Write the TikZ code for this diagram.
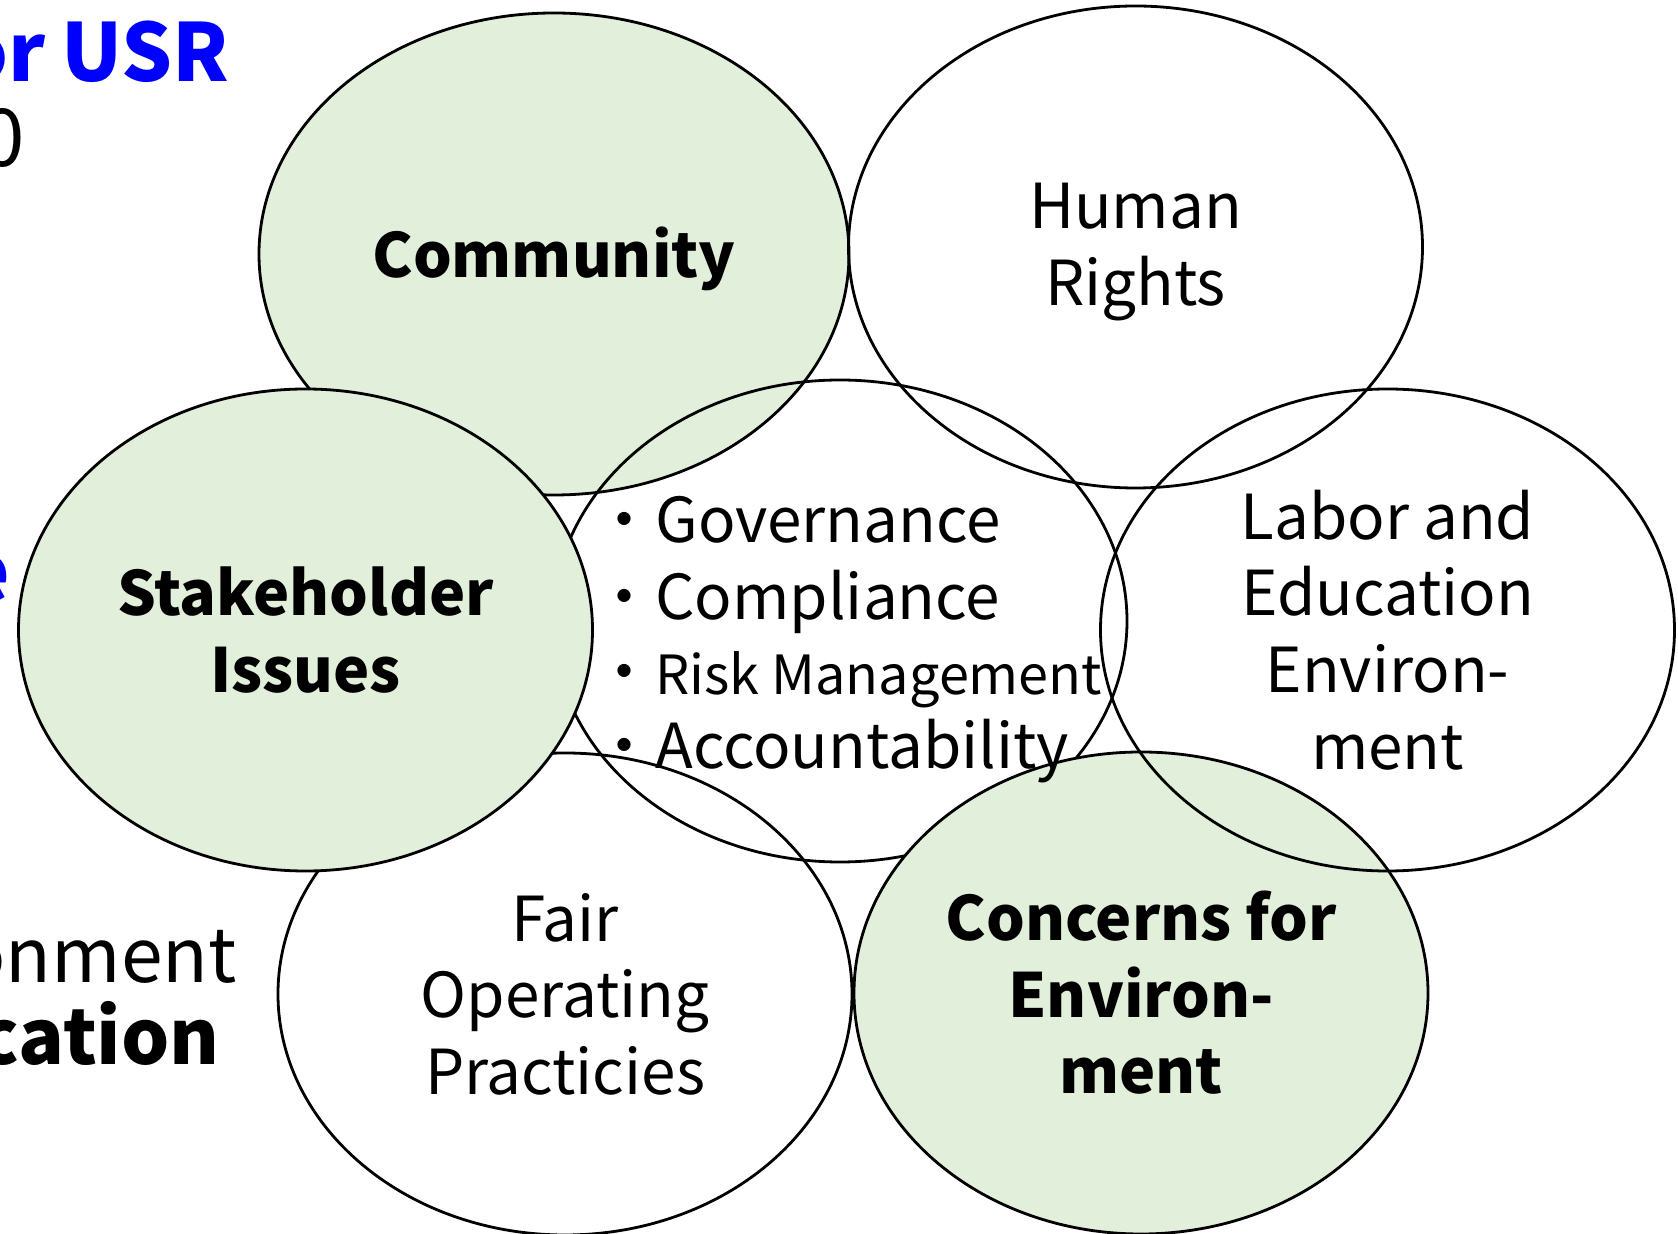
\documentclass[tikz,border=0pt]{standalone}
\usepackage{fontspec}
\setmainfont{Noto Sans CJK JP}
\usetikzlibrary{positioning,shapes.geometric}
\definecolor{sgreen}{RGB}{226,239,218}
\definecolor{titleblue}{RGB}{0,0,255}

\begin{document}
\begin{tikzpicture}[
  x=0.5pt, y=-0.5pt,
  subject/.style={ellipse, draw=black, line width=1.4pt, minimum width=287pt, minimum height=241pt, inner sep=0pt},
  keytext/.style={font=\bfseries\fontsize{30.5}{38.3}\selectfont, align=center},
  subtext/.style={font=\fontsize{31}{38.3}\selectfont, align=center},
  item/.style={anchor=base west, inner sep=0pt, font=\fontsize{31}{38}\selectfont},
  cut/.style={anchor=base east, inner sep=0pt},
]
\useasboundingbox (0,0) rectangle (1678,1234);

% leftovers of the slide behind
\node[cut, text=titleblue, font=\bfseries\fontsize{40}{48}\selectfont] (title) at (230,82) {or\hspace{0.2em}USR};
\node[cut, font=\fontsize{40}{48}\selectfont] (year) at (25,167) {0};
\node[cut, text=titleblue, font=\bfseries\fontsize{40}{48}\selectfont] (side) at (11,602) {e};
\node[cut, font=\fontsize{37.5}{45}\selectfont] (envword) at (237,983) {onment};
\node[cut, font=\bfseries\fontsize{38}{45}\selectfont] (eduword) at (220,1065) {cation};

% core subjects
\node[subject, fill=sgreen, minimum width=295pt] (community) at (554,254) {};
\node[subject] (rights) at (1135.5,247) {};
\node[subject] (fair) at (565,994) {};
\node[subject] (core) at (840,621) {};
\node[subject, fill=sgreen] (concerns) at (1141,993) {};
\node[subject] (labor) at (1387.5,630) {};
\node[subject, fill=sgreen] (stakeholder) at (305.5,630) {};

% labels
\node[keytext] (communitytext) at (554,259) {Community};
\node[subtext] (rightstext) at (1135.5,252) {Human\\Rights};
\node[keytext] (stakeholdertext) at (stakeholder) {Stakeholder\\Issues};
\node[subtext] (labortext) at (labor) {Labor and\\Education\\Environ-\\ment};
\node[subtext] (fairtext) at (fair) {Fair\\Operating\\Practicies};
\node[keytext] (concernstext) at (concerns) {Concerns for\\Environ-\\ment};

% governance list
\node[item] (gov) at (593,543) {・Governance};
\node[item] (comp) at (593,620) {・Compliance};
\node[item] (risk) at (593,695) {・{\fontsize{27}{30}\selectfont Risk Management}};
\node[item] (acct) at (593,769) {・Accountability};
\end{tikzpicture}
\end{document}
